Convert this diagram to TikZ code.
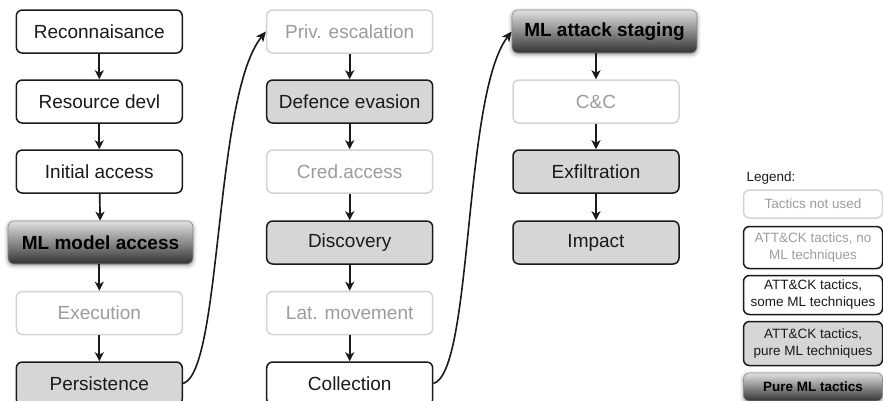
\documentclass[tikz,border=0pt]{standalone}
\usepackage{fontspec}
\setmainfont{Liberation Sans}
\usetikzlibrary{arrows.meta,shadows.blur}

\definecolor{inktext}{HTML}{1A1A1A}
\definecolor{fadeline}{HTML}{D4D4D4}
\definecolor{fadetext}{HTML}{9C9C9C}
\definecolor{boxgray}{HTML}{D6D6D6}

\tikzset{
  tactic/.style={rounded corners=6pt, minimum width=166pt, minimum height=43pt,
    inner sep=0pt, line width=1.5pt, align=center,
    font=\fontsize{19}{22}\selectfont},
  unused/.style={tactic, draw=fadeline, fill=white, text=fadetext},
  plain/.style={tactic, draw=inktext, fill=white, text=inktext},
  grayed/.style={tactic, draw=inktext, fill=boxgray, text=inktext},
  pureml/.style={tactic, minimum width=185pt, draw=black!45, line width=0.6pt,
    top color=black!12, middle color=black!45, bottom color=black!80,
    text=black, font=\fontsize{19}{22}\selectfont\bfseries,
    blur shadow={shadow xshift=0pt, shadow yshift=-1.5pt,
      shadow blur radius=4pt, shadow opacity=45}},
  legbox/.style={minimum width=139pt, font=\fontsize{13.5}{17}\selectfont},
  flow/.style={line width=1.7pt, inktext, -{Stealth[length=9pt,width=9pt,inset=2.5pt]}},
  jump/.style={line width=1.6pt, inktext, -{Stealth[length=10pt,width=9pt,inset=2.5pt]}}
}

\begin{document}
\begin{tikzpicture}[x=1pt,y=-1pt]
\useasboundingbox (0,0) rectangle (883,400);

% first column
\node[plain]  (rec)  at (99.3,31.5)  {Reconnaisance};
\node[plain]  (res)  at (99.3,101.5) {Resource devl};
\node[plain]  (ini)  at (99.3,171.5) {Initial access};
\node[pureml] (mla)  at (100.5,242.5) {ML model access};
\node[unused] (exe)  at (99.3,313)   {Execution};
\node[grayed] (per)  at (99.3,383.5) {Persistence};

% second column
\node[unused] (priv) at (349.7,31.5)  {Priv. escalation};
\node[grayed] (def)  at (349.7,101.5) {Defence evasion};
\node[unused] (cred) at (349.7,171.5) {Cred.access};
\node[grayed] (dis)  at (349.7,242.5) {Discovery};
\node[unused] (lat)  at (349.7,313)   {Lat. movement};
\node[plain]  (col)  at (349.7,383.5) {Collection};

% third column
\node[pureml] (mls)  at (604.5,31.5)  {ML attack staging};
\node[unused] (cc)   at (596,101.5)   {C\&C};
\node[grayed] (exf)  at (596,171.5)   {Exfiltration};
\node[grayed] (imp)  at (596,242.5)   {Impact};

% arrows inside the columns
\draw[flow] (rec) -- (res);
\draw[flow] (res) -- (ini);
\draw[flow] (ini) -- (mla);
\draw[flow] (mla.south -| exe) -- (exe);
\draw[flow] (exe) -- (per);
\draw[flow] (priv) -- (def);
\draw[flow] (def) -- (cred);
\draw[flow] (cred) -- (dis);
\draw[flow] (dis) -- (lat);
\draw[flow] (lat) -- (col);
\draw[flow] (mls.south -| cc) -- (cc);
\draw[flow] (cc) -- (exf);
\draw[flow] (exf) -- (imp);

% arrows from one column to the next
\draw[jump] (per.east) .. controls (222,372) and (214,95) .. (priv.west);
\draw[jump] (col.east) .. controls (473,372) and (463,95) .. (mls.west);

% legend
\node[anchor=west, font=\fontsize{13.5}{16}\selectfont, text=inktext] (leg) at (743,178) {Legend:};
\node[unused, legbox, minimum height=28pt] (l1) at (813,204)   {Tactics not used};
\node[tactic, legbox, draw=inktext, text=fadetext, minimum height=42pt] (l2) at (813,247.5) {ATT\&CK tactics, no\\ML techniques};
\node[plain, legbox, minimum height=39pt] (l3) at (813,295) {ATT\&CK tactics,\\some ML techniques};
\node[grayed, legbox, minimum height=44pt] (l4) at (813,343.5) {ATT\&CK tactics,\\pure ML techniques};
\node[pureml, legbox, minimum height=28pt, font=\fontsize{13.5}{17}\selectfont\bfseries] (l5) at (813,387) {Pure ML tactics};
\end{tikzpicture}
\end{document}
